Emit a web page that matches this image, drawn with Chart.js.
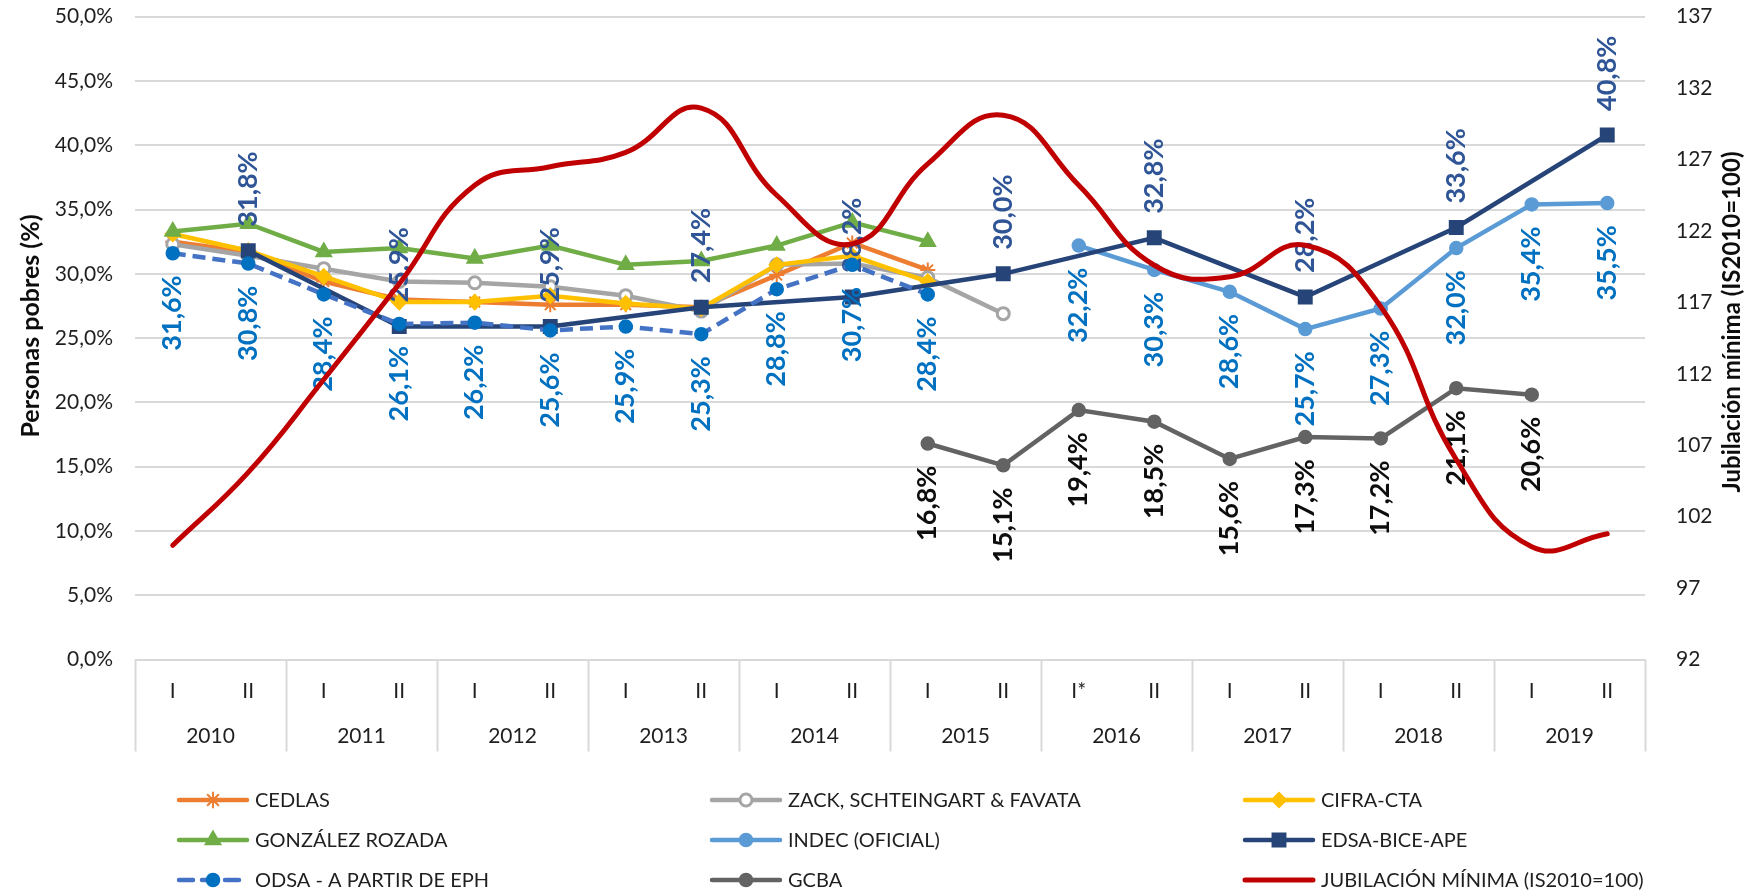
<!DOCTYPE html>
<html><head><meta charset="utf-8">
<script src="https://cdn.jsdelivr.net/npm/chart.js@4.4.1/dist/chart.umd.min.js"></script>
<style>html,body{margin:0;padding:0;background:#fff;}#wrap{width:1747px;height:896px;position:relative;}</style>
</head><body><div id="wrap"><canvas id="c"></canvas></div>
<script>
const years = ['2010','2011','2012','2013','2014','2015','2016','2017','2018','2019'];
const halves = ['I','II','I','II','I','II','I','II','I','II','I','II','I*','II','I','II','I','II','I','II'];
const categories = halves.map((h,i)=>years[Math.floor(i/2)]+' '+h);

const cedlas   = [32.5,31.7,29.4,28.0,27.8,27.6,27.6,27.4,29.9,32.4,30.3,null,null,null,null,null,null,null,null,null];
const zack     = [32.3,31.4,30.4,29.4,29.3,29.0,28.3,27.1,30.7,30.8,29.7,26.9,null,null,null,null,null,null,null,null];
const cifra    = [33.1,31.8,29.8,27.8,27.8,28.3,27.7,27.3,30.7,31.4,29.4,null,null,null,null,null,null,null,null,null];
const gonzalez = [33.3,33.9,31.7,32.0,31.2,32.2,30.7,31.0,32.2,34.0,32.5,null,null,null,null,null,null,null,null,null];
const indec    = [null,null,null,null,null,null,null,null,null,null,null,null,32.2,30.3,28.6,25.7,27.3,32.0,35.4,35.5];
const edsa     = [null,31.8,null,25.9,null,25.9,null,27.4,null,28.2,null,30.0,null,32.8,null,28.2,null,33.6,null,40.8];
const odsa     = [31.6,30.8,28.4,26.1,26.2,25.6,25.9,25.3,28.8,30.7,28.4,null,null,null,null,null,null,null,null,null];
const gcba     = [null,null,null,null,null,null,null,null,null,null,16.8,15.1,19.4,18.5,15.6,17.3,17.2,21.1,20.6,null];
const jubilacion = [100.0,105.1,111.6,118.3,125.2,126.5,127.5,130.6,124.5,121.1,126.7,130.1,125.2,119.6,118.8,121.0,116.7,106.0,99.9,100.8];

const seriesNames = ['CEDLAS','ZACK, SCHTEINGART & FAVATA','CIFRA-CTA','GONZÁLEZ ROZADA','INDEC (OFICIAL)','EDSA-BICE-APE','ODSA - A PARTIR DE EPH','GCBA','JUBILACIÓN MÍNIMA (IS2010=100)'];

const FONT = 'Lato, "Open Sans", sans-serif';
const TXT = '#1F1F1F';

function lineDs(label, data, color, style, radius, extra){
  return Object.assign({label, data, borderColor: color, backgroundColor: color,
    pointBackgroundColor: color, pointBorderColor: color, borderWidth: 4.5,
    pointStyle: style, pointRadius: radius, pointHoverRadius: radius, pointBorderWidth: 1.5,
    tension: 0, yAxisID: 'y', fill: false}, extra||{});
}

const datasets = [
  lineDs(seriesNames[0], cedlas, '#ED7D31', 'star', 7.5, {pointBorderWidth:2}),
  lineDs(seriesNames[1], zack, '#A5A5A5', 'circle', 6, {pointBackgroundColor:'#fff', pointBorderWidth:3}),
  lineDs(seriesNames[2], cifra, '#FFC000', 'rectRot', 7.5),
  lineDs(seriesNames[3], gonzalez, '#70AD47', 'triangle', 9),
  lineDs(seriesNames[4], indec, '#5B9BD5', 'circle', 6.5),
  lineDs(seriesNames[5], edsa, '#264478', 'rect', 9.5, {spanGaps:true}),
  lineDs(seriesNames[6], odsa, '#4472C4', 'circle', 6.5, {borderDash:[13,7], pointBackgroundColor:'#0070C0', pointBorderColor:'#0070C0'}),
  lineDs(seriesNames[7], gcba, '#636363', 'circle', 6.5),
  {label: seriesNames[8], data: jubilacion, borderColor:'#C00000', backgroundColor:'#C00000', borderWidth:5,
   pointRadius:0, pointHoverRadius:0, pointStyle:false, tension:0.45, yAxisID:'y1', fill:false, borderCapStyle:'round'}
];
datasets.forEach((d,i)=>{ d.order = datasets.length - i; });

const labelCfg = {
  5: {pos:'above', color:'#2F5597'},
  6: {pos:'below', color:'#0070C0'},
  4: {pos:'below', color:'#0070C0'},
  7: {pos:'below', color:'#0D0D0D'}
};

const labelPlugin = {
  id:'valueLabels',
  afterDatasetDraw(chart, args){
    const cfg = labelCfg[args.index]; if(!cfg) return;
    const ds = chart.data.datasets[args.index];
    const ctx = chart.ctx; ctx.save();
    ctx.font = 'bold 27px ' + FONT; ctx.fillStyle = cfg.color; ctx.textBaseline = 'middle';
    args.meta.data.forEach((pt,i)=>{
      const v = ds.data[i]; if(v==null) return;
      const txt = v.toFixed(1).replace('.',',') + '%';
      ctx.save();
      if(cfg.pos==='below'){ ctx.translate(pt.x, pt.y + 22); ctx.rotate(-Math.PI/2); ctx.textAlign='right'; }
      else { ctx.translate(pt.x, pt.y - 24); ctx.rotate(-Math.PI/2); ctx.textAlign='left'; }
      ctx.fillText(txt, 0, 0);
      ctx.restore();
    });
    ctx.restore();
  }
};

const decorPlugin = {
  id:'decor',
  afterDraw(chart){
    const ctx = chart.ctx, ca = chart.chartArea, xs = chart.scales.x;
    ctx.save();
    ctx.strokeStyle = '#D9D9D9'; ctx.lineWidth = 2;
    const half = (xs.getPixelForValue(1) - xs.getPixelForValue(0))/2;
    for(let k=0;k<=years.length;k++){
      const x = k<years.length ? xs.getPixelForValue(2*k) - half : xs.getPixelForValue(2*k-1) + half;
      ctx.beginPath(); ctx.moveTo(Math.round(x)+0.5, ca.bottom); ctx.lineTo(Math.round(x)+0.5, ca.bottom+92); ctx.stroke();
    }
    ctx.fillStyle = TXT; ctx.font = '21px ' + FONT; ctx.textAlign='center'; ctx.textBaseline='middle';
    halves.forEach((h,i)=>{ ctx.fillText(h, xs.getPixelForValue(i), ca.bottom + 32); });
    years.forEach((y,k)=>{ const x = (xs.getPixelForValue(2*k)+xs.getPixelForValue(2*k+1))/2; ctx.fillText(y, x, ca.bottom + 77); });
    ctx.fillStyle = '#0D0D0D';
    ctx.save(); ctx.font = 'bold 25px ' + FONT; ctx.translate(31, 326); ctx.rotate(-Math.PI/2); ctx.fillText('Personas pobres (%)', 0, 0); ctx.restore();
    ctx.save(); ctx.font = 'bold 24px ' + FONT; ctx.translate(1732, 322); ctx.rotate(-Math.PI/2); ctx.fillText('Jubilación mínima (IS2010=100)', 0, 0); ctx.restore();
    const colX = [177, 710, 1243], rowY = [800, 840, 880];
    chart.data.datasets.forEach((d,i)=>{
      const x0 = colX[i%3], y = rowY[Math.floor(i/3)];
      const w = 72;
      ctx.save();
      ctx.strokeStyle = d.borderColor; ctx.lineWidth = d.borderWidth; ctx.lineCap = 'round';
      if(d.borderDash) ctx.setLineDash([14,9]);
      ctx.beginPath(); ctx.moveTo(x0+2, y); ctx.lineTo(x0+w-2, y); ctx.stroke();
      ctx.setLineDash([]);
      if(d.pointStyle && d.pointRadius>0 && Chart.helpers && Chart.helpers.drawPoint){
        ctx.fillStyle = d.pointBackgroundColor; ctx.strokeStyle = d.pointBorderColor; ctx.lineWidth = d.pointBorderWidth;
        Chart.helpers.drawPoint(ctx, {pointStyle:d.pointStyle, radius:d.pointRadius, borderWidth:d.pointBorderWidth, rotation:0}, x0+w/2, y);
      }
      ctx.restore();
      ctx.fillStyle = TXT; ctx.font = '20px ' + FONT; ctx.textAlign='left'; ctx.textBaseline='middle';
      ctx.fillText(d.label, x0+w+6, y+1);
    });
    ctx.restore();
  }
};

function fixV(w){ return s => { s.width = w; s.paddingTop = 16.7; s.paddingBottom = 0; }; }

new Chart(document.getElementById('c'), {
  type:'line',
  data:{labels: categories, datasets},
  plugins:[labelPlugin, decorPlugin],
  options:{
    responsive:true, maintainAspectRatio:false, animation:false,
    devicePixelRatio:1,
    layout:{padding:{top:0, bottom:136.5, left:0, right:0}},
    plugins:{legend:{display:false}, tooltip:{enabled:false}},
    scales:{
      x:{offset:true, grid:{display:false}, border:{display:false}, ticks:{display:false},
         afterFit(s){ s.height = 100; }},
      y:{position:'left', min:0, max:50,
         ticks:{stepSize:5, padding:22, color:TXT, font:{family:FONT, size:21}, callback:v=>v.toFixed(1).replace('.',',')+'%'},
         grid:{color:'#D9D9D9', lineWidth:2, drawTicks:false}, border:{display:false},
         afterFit: fixV(135)},
      y1:{position:'right', min:92, max:137,
         ticks:{stepSize:5, padding:23, color:TXT, font:{family:FONT, size:21}},
         grid:{display:false}, border:{display:false},
         afterFit: fixV(102)}
    }
  }
});
</script></body></html>
